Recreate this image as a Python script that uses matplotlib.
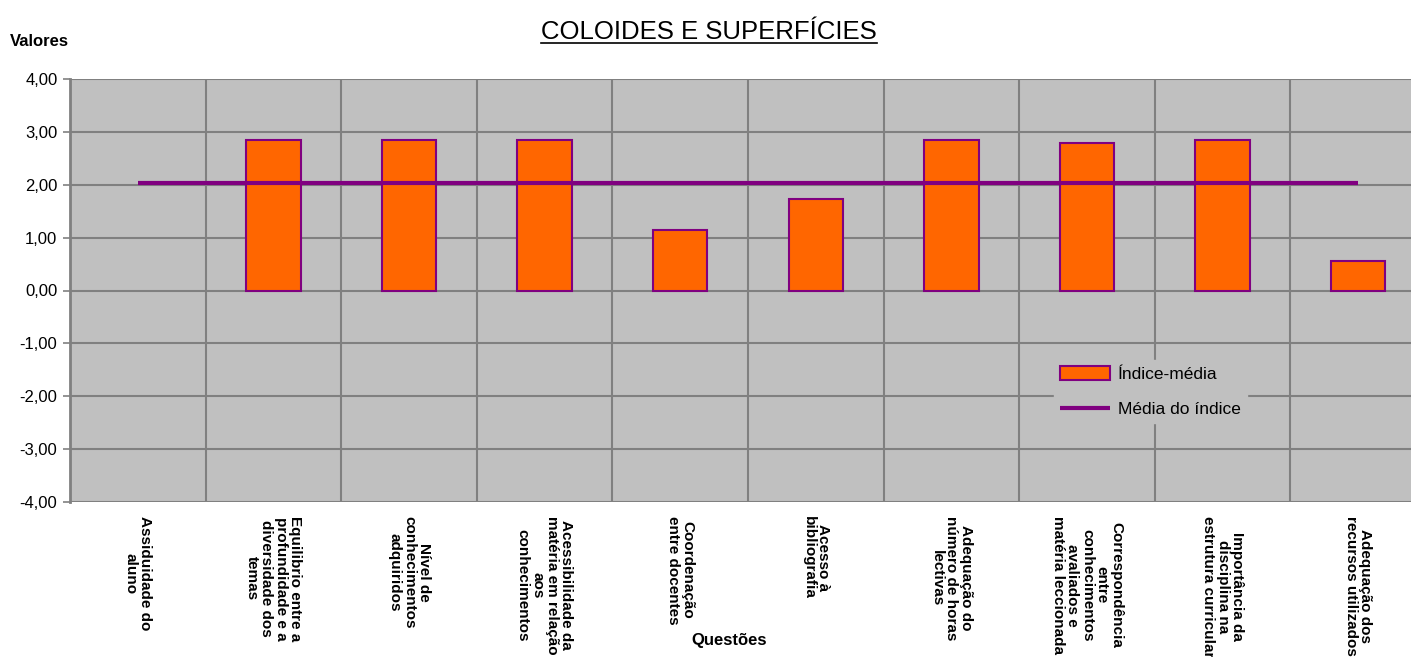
"""
Bar chart with mean line: COLOIDES E SUPERFÍCIES.
"""

import numpy as np
import matplotlib.pyplot as plt
from matplotlib.lines import Line2D
from matplotlib.patches import Patch

plt.rcParams['font.family'] = ['Liberation Sans', 'DejaVu Sans']

# Data
questions = [
    "Assiduidade do\naluno",
    "Equilibrio entre a\nprofundidade e a\ndiversidade dos\ntemas",
    "Nível de\nconhecimentos\nadquiridos",
    "Acessibilidade da\nmatéria em relação\naos\nconhecimentos",
    "Coordenação\nentre docentes",
    "Acesso à\nbibliografia",
    "Adequação do\nnúmero de horas\nlectivas",
    "Correspondência\nentre\nconhecimentos\navaliados e\nmatéria leccionada",
    "Importância da\ndisciplina na\nestrutura curricular",
    "Adequação dos\nrecursos utilizados",
]
indice_media = [0.00, 2.85, 2.85, 2.85, 1.14, 1.73, 2.85, 2.79, 2.85, 0.56]
media_indice = [2.04] * len(questions)
y_ticks = [-4, -3, -2, -1, 0, 1, 2, 3, 4]

orange = '#FF6600'
purple = '#800080'
bg = '#C0C0C0'
gridc = '#808080'

fig = plt.figure(figsize=(14.11, 6.57), dpi=100)
ax = fig.add_axes([70 / 1411, 155 / 657, 1356 / 1411, 423 / 657])
ax.set_facecolor(bg)

x = np.arange(len(questions))
# zero-height bars are not drawn at all (no outline)
edges = [purple if v != 0 else 'none' for v in indice_media]
ax.bar(x, indice_media, width=0.4, color=orange, edgecolor=edges,
       linewidth=1.5, zorder=3)
line, = ax.plot(x, media_indice, color=purple, linewidth=3,
                zorder=4, solid_capstyle='butt')

# Axes, grid
ax.set_xlim(-0.5, len(questions) - 0.5)
ax.set_ylim(-4, 4)
ax.set_yticks(y_ticks)
ax.set_yticklabels([('%.2f' % v).replace('.', ',') for v in y_ticks], fontsize=12)
ax.yaxis.set_tick_params(length=5, width=1.2, color=gridc, pad=4)
ax.set_xticks(x)
ax.set_xticklabels(questions, rotation=270, fontsize=11, fontweight='bold',
                   ha='center', va='top', multialignment='center',
                   linespacing=1.05)
ax.xaxis.set_tick_params(length=0, pad=10)
ax.set_xticks(np.arange(0.5, len(questions) - 1, 1), minor=True)
ax.xaxis.set_tick_params(which='minor', length=0)
ax.grid(axis='y', color=gridc, linewidth=1.5, zorder=0)
ax.grid(axis='x', which='minor', color=gridc, linewidth=1.5, zorder=0)
ax.set_axisbelow(True)
for side in ['top', 'right', 'bottom']:
    ax.spines[side].set_visible(False)
ax.spines['left'].set_color(gridc)
ax.spines['left'].set_linewidth(2)

# Labels
fig.text(10 / 1411, 1 - 42 / 657, 'Valores', fontsize=12, fontweight='bold',
         ha='left', va='center')
fig.text(729 / 1411, 1 - 641 / 657, 'Questões', fontsize=12, fontweight='bold',
         ha='center', va='center')
title = fig.text(709 / 1411, 1 - 32 / 657, 'COLOIDES E SUPERFÍCIES',
                 fontsize=18.5, ha='center', va='center')

# Underline the title
fig.canvas.draw()
bb = title.get_window_extent().transformed(fig.transFigure.inverted())
fig.add_artist(Line2D([bb.x0, bb.x1], [bb.y0 + 0.002, bb.y0 + 0.002],
                      color='black', linewidth=1.2, transform=fig.transFigure))

# Legend
bar_handle = Patch(facecolor=orange, edgecolor=purple, linewidth=1.5)
leg = ax.legend([bar_handle, line], ['Índice-média', 'Média do índice'],
                loc='upper left',
                bbox_to_anchor=((1045 - 70) / 1356, (502 - 351) / 423),
                fontsize=12.5, frameon=True, facecolor=bg, edgecolor=bg,
                framealpha=1, handlelength=2.9, handleheight=0.9,
                handletextpad=0.45, borderpad=0.35, labelspacing=1.1,
                fancybox=False)

plt.savefig('out.png', dpi=100)
